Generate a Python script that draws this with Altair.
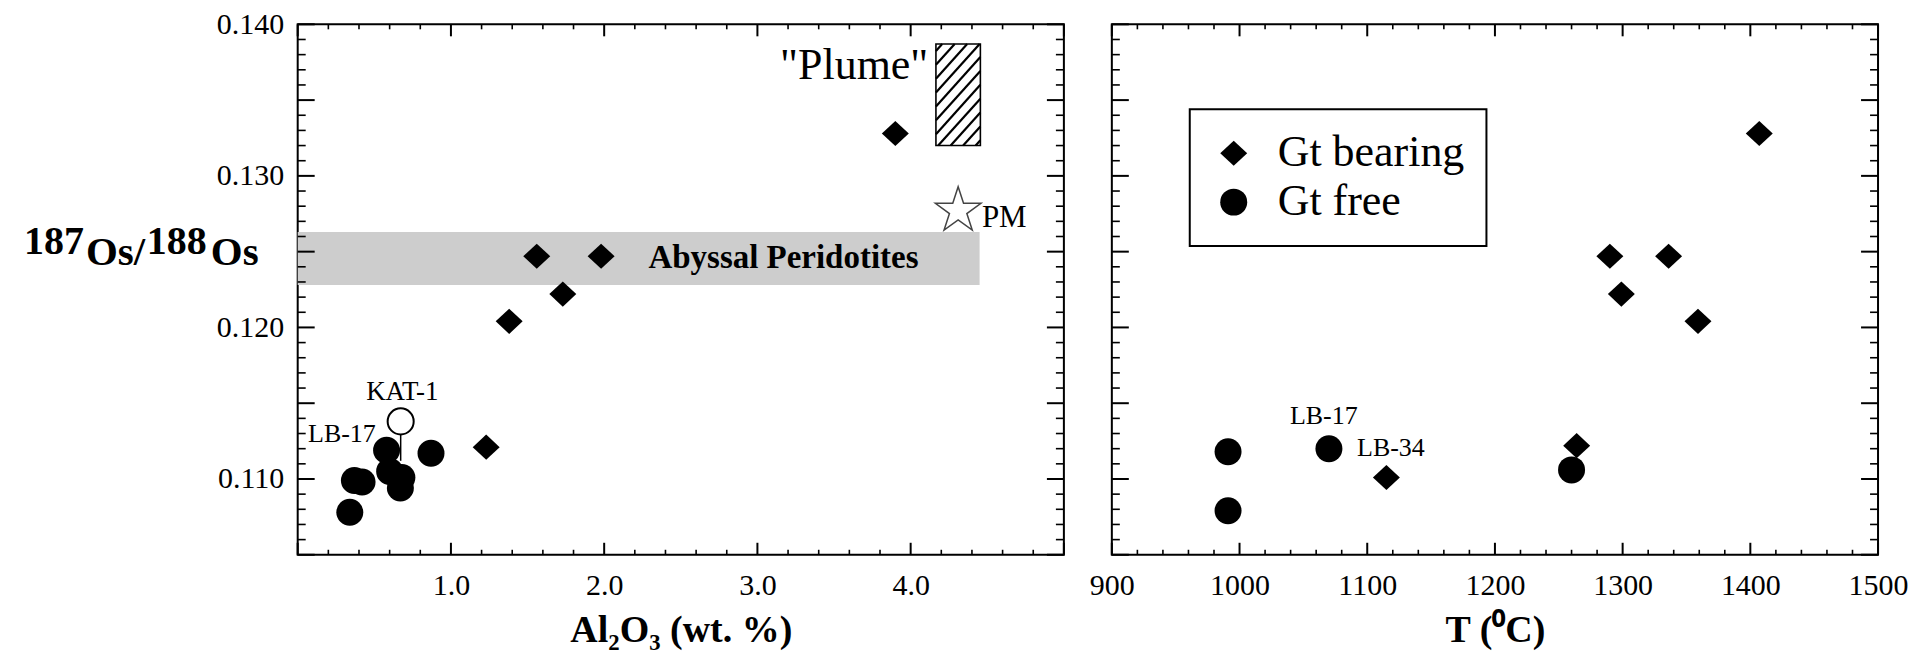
import altair as alt
import pandas as pd

SERIF = "Liberation Serif"
W, H = 767, 531

# ---------------- data ----------------
# left panel: Al2O3 (wt. %) vs 187Os/188Os
gtb_al = [3.90, 1.56, 1.98, 1.73, 1.38, 1.23]
gtb_os_left = [0.1328, 0.1247, 0.1247, 0.1222, 0.1204, 0.1121]
gtf_al = [0.34, 0.37, 0.42, 0.58, 0.60, 0.68, 0.67, 0.87]
gtf_os_left = [0.1078, 0.1099, 0.1098, 0.1119, 0.1105, 0.1101, 0.1094, 0.1117]
kat1_al = [0.672]
kat1_os = [0.1138]
kat1_link_os = [0.1130, 0.1112]
pm_al = [4.31]
pm_os = [0.1277]
abyssal_al = [0.0, 4.45]
abyssal_os = [0.1228, 0.1263]
plume_al = [4.165, 4.455]
plume_os = [0.1320, 0.1387]

# right panel: T (oC) vs 187Os/188Os
gtb_t = [1407, 1290, 1336, 1299, 1359, 1264, 1115]
gtb_os_right = [0.1328, 0.1247, 0.1247, 0.1222, 0.1204, 0.1122, 0.1101]
gtf_t = [991, 991, 1070, 1260]
gtf_os_right = [0.1118, 0.1079, 0.1120, 0.1106]

# annotations (label, x, y)
left_small_labels = ["KAT-1"]
left_small_x = [0.683]
left_small_y = [0.1152]
left_lb17 = ["LB-17"]
left_lb17_x = [0.51]
left_lb17_y = [0.11245]
pm_label = ["PM"]
pm_label_x = [4.465]
pm_label_y = [0.1266]
plume_label = ['"Plume"']
plume_label_x = [4.115]
plume_label_y = [0.1364]
abyssal_label = ["Abyssal Peridotites"]
abyssal_label_x = [3.17]
abyssal_label_y = [0.1239]
right_lb17 = ["LB-17"]
right_lb17_x = [1066]
right_lb17_y = [0.1136]
right_lb34 = ["LB-34"]
right_lb34_x = [1092]
right_lb34_y = [0.1115]

# axes / ticks
y_domain = [0.105, 0.140]
y_labels = [0.110, 0.120, 0.130, 0.140]
al_domain = [0, 5]
al_labels = [1.0, 2.0, 3.0, 4.0]
t_domain = [900, 1500]
t_labels = [900, 1000, 1100, 1200, 1300, 1400, 1500]

y_all = [round(0.105 + 0.001 * i, 3) for i in range(36)]
y_major = [v for i, v in enumerate(y_all) if i % 5 == 0]
y_minor = [v for i, v in enumerate(y_all) if i % 5 != 0]
al_all = [round(0.2 * i, 1) for i in range(26)]
al_major = [v for i, v in enumerate(al_all) if i % 5 == 0]
al_minor = [v for i, v in enumerate(al_all) if i % 5 != 0]
t_all = list(range(900, 1501, 20))
t_major = [v for v in t_all if v % 100 == 0]
t_minor = [v for v in t_all if v % 100 != 0]

groups = ["Gt bearing", "Gt free"]
DIAMOND = "M0,-0.93L1,0L0,0.93L-1,0Z"
STAR = ("M0,-1L0.225,-0.309L0.951,-0.309L0.363,0.118L0.588,0.809L0,0.382"
        "L-0.588,0.809L-0.363,0.118L-0.951,-0.309L-0.225,-0.309Z")

# ---------------- helpers ----------------
lab = dict(ticks=False, domain=False, grid=False, labelFont=SERIF,
           labelFontSize=30, labelColor="black", labelOverlap=False)
ax_y = alt.Axis(values=y_labels, format=".3f", labelPadding=14, title=None, **lab)
ttl = dict(titleFont=SERIF, titleFontSize=38, titleFontWeight="bold", titleColor="black",
           titlePadding=11)
ax_al = alt.Axis(values=al_labels, format=".1f", labelPadding=16, labelFlush=False,
                 title="Al₂O₃ (wt. %)", **ttl, **lab)
ax_t = alt.Axis(values=t_labels, format="d", labelPadding=16, labelFlush=False,
                title="T (⁰C)", **ttl, **lab)


def xe(dom, ax, field="x"):
    return alt.X(f"{field}:Q", scale=alt.Scale(domain=dom, nice=False, zero=False), axis=ax)


def ye(ax, field="y"):
    return alt.Y(f"{field}:Q", scale=alt.Scale(domain=y_domain, nice=False, zero=False), axis=ax)


def tick_layers(xmaj, xmin, dom, xax, yax):
    out = []
    for vals, L, sw in ((xmaj, 12, 2.0), (xmin, 5, 1.6)):
        d = pd.DataFrame({"x": vals})
        for a, b in ((H, H - L), (0, L)):
            out.append(alt.Chart(d).mark_rule(color="black", strokeWidth=sw).encode(
                x=xe(dom, xax), y=alt.value(a), y2=alt.value(b)))
    for vals, L, sw in ((y_major, 17, 2.0), (y_minor, 8, 1.6)):
        d = pd.DataFrame({"y": vals})
        for a, b in ((0, L), (W, W - L)):
            out.append(alt.Chart(d).mark_rule(color="black", strokeWidth=sw).encode(
                y=ye(yax), x=alt.value(a), x2=alt.value(b)))
    return out


def text_layer(labels, xs, ys, dom, xax, yax, size, align, weight="normal"):
    d = pd.DataFrame({"label": labels, "x": xs, "y": ys})
    return alt.Chart(d).mark_text(font=SERIF, fontSize=size, align=align, baseline="alphabetic",
                                  fontWeight=weight, color="black").encode(
        x=xe(dom, xax), y=ye(yax), text="label:N")


def hatch_rows(x0, x1, y0, y1, dom, k=0.9, step=12.5):
    pw = (x1 - x0) / (dom[1] - dom[0]) * W
    ph = (y1 - y0) / (y_domain[1] - y_domain[0]) * H
    rows = []
    c = -k * ph + step / 2
    while c < pw:
        ya = max(0.0, -c / k)
        yb = min(ph, (pw - c) / k)
        if yb > ya:
            xa, xb = c + k * ya, c + k * yb
            rows.append({"x": x0 + xa / pw * (x1 - x0), "y": y0 + ya / ph * (y1 - y0),
                         "x2": x0 + xb / pw * (x1 - x0), "y2": y0 + yb / ph * (y1 - y0)})
        c += step
    return pd.DataFrame(rows)


# ---------------- left panel ----------------
band = alt.Chart(pd.DataFrame({"x": [abyssal_al[0]], "x2": [abyssal_al[1]],
                               "y": [abyssal_os[0]], "y2": [abyssal_os[1]]})).mark_rect(
    color="#cdcdcd").encode(x=xe(al_domain, ax_al), x2=alt.X2("x2"), y=ye(ax_y), y2=alt.Y2("y2"))

plume_box = alt.Chart(pd.DataFrame({"x": [plume_al[0]], "x2": [plume_al[1]],
                                    "y": [plume_os[0]], "y2": [plume_os[1]]})).mark_rect(
    fillOpacity=0, stroke="black", strokeWidth=1.6).encode(
    x=xe(al_domain, ax_al), x2=alt.X2("x2"), y=ye(ax_y), y2=alt.Y2("y2"))

plume_hatch = alt.Chart(hatch_rows(plume_al[0], plume_al[1], plume_os[0], plume_os[1], al_domain)).mark_rule(
    color="black", strokeWidth=2.2).encode(x=xe(al_domain, ax_al), x2=alt.X2("x2"), y=ye(ax_y), y2=alt.Y2("y2"))

kat_link = alt.Chart(pd.DataFrame({"x": kat1_al, "y": [kat1_link_os[0]], "y2": [kat1_link_os[1]]})).mark_rule(
    color="black", strokeWidth=1.5).encode(x=xe(al_domain, ax_al), y=ye(ax_y), y2=alt.Y2("y2"))

left_dia = alt.Chart(pd.DataFrame({"x": gtb_al, "y": gtb_os_left})).mark_point(
    shape=DIAMOND, filled=True, color="black", opacity=1, size=729).encode(
    x=xe(al_domain, ax_al), y=ye(ax_y))
left_cir = alt.Chart(pd.DataFrame({"x": gtf_al, "y": gtf_os_left})).mark_point(
    shape="circle", filled=True, color="black", opacity=1, size=729).encode(
    x=xe(al_domain, ax_al), y=ye(ax_y))
kat_pt = alt.Chart(pd.DataFrame({"x": kat1_al, "y": kat1_os})).mark_point(
    shape="circle", filled=True, fill="white", stroke="black", strokeWidth=2, opacity=1, size=680).encode(
    x=xe(al_domain, ax_al), y=ye(ax_y))
pm_pt = alt.Chart(pd.DataFrame({"x": pm_al, "y": pm_os})).mark_point(
    shape=STAR, filled=True, fill="white", stroke="#444444", strokeWidth=1.5, opacity=1, size=2300).encode(
    x=xe(al_domain, ax_al), y=ye(ax_y))

left_texts = [
    text_layer(abyssal_label, abyssal_label_x, abyssal_label_y, al_domain, ax_al, ax_y, 33, "center", "bold"),
    text_layer(plume_label, plume_label_x, plume_label_y, al_domain, ax_al, ax_y, 44, "right"),
    text_layer(pm_label, pm_label_x, pm_label_y, al_domain, ax_al, ax_y, 31, "left"),
    text_layer(left_small_labels, left_small_x, left_small_y, al_domain, ax_al, ax_y, 27, "center"),
    text_layer(left_lb17, left_lb17_x, left_lb17_y, al_domain, ax_al, ax_y, 26, "right"),
]

# y-axis title pieces (187Os/188Os with raised mass numbers)
title_parts = ["187", "Os/", "188", "Os"]
title_sizes = [40, 41, 40, 41]
title_px = [-274, -212, -151, -87]
title_py = [230, 241, 230, 241]
title_layers = [
    alt.Chart(pd.DataFrame({"t": [t]})).mark_text(
        font=SERIF, fontSize=s, fontWeight="bold", align="left", baseline="alphabetic", color="black").encode(
        text="t:N", x=alt.value(px), y=alt.value(py))
    for t, s, px, py in zip(title_parts, title_sizes, title_px, title_py)
]

left = alt.layer(
    band, plume_hatch, plume_box, kat_link,
    *tick_layers(al_major, al_minor, al_domain, ax_al, ax_y),
    left_cir, left_dia, kat_pt, pm_pt, *left_texts, *title_layers,
).properties(width=W, height=H)

# ---------------- right panel ----------------
right_pts = pd.DataFrame({
    "x": gtb_t + gtf_t,
    "y": gtb_os_right + gtf_os_right,
    "group": [groups[0]] * len(gtb_t) + [groups[1]] * len(gtf_t),
})
right_points = alt.Chart(right_pts).mark_point(filled=True, color="black", opacity=1, size=729).encode(
    x=xe(t_domain, ax_t), y=ye(None),
    shape=alt.Shape("group:N", scale=alt.Scale(domain=groups, range=[DIAMOND, "circle"]),
                    legend=alt.Legend(title=None, orient="none", legendX=78, legendY=85, padding=22,
                                      rowPadding=5, labelOffset=22, labelFont=SERIF, labelFontSize=44,
                                      labelColor="black", labelLimit=600, symbolSize=729,
                                      symbolFillColor="black", symbolStrokeColor="black",
                                      symbolOpacity=1, strokeColor="black", fillColor="white")),
)
right_texts = [
    text_layer(right_lb17, right_lb17_x, right_lb17_y, t_domain, ax_t, None, 26, "center"),
    text_layer(right_lb34, right_lb34_x, right_lb34_y, t_domain, ax_t, None, 26, "left"),
]
right = alt.layer(
    *tick_layers(t_major, t_minor, t_domain, ax_t, None),
    right_points, *right_texts,
).properties(width=W, height=H)

chart = alt.hconcat(left, right, spacing=22).resolve_legend(shape="independent").properties(
    padding={"left": 15, "top": 0, "right": 0, "bottom": 0}, background="white"
).configure_view(stroke="black", strokeWidth=2).configure_legend(strokeWidth=2)

chart.save("out.html", embed_options={"renderer": "svg", "actions": False})
